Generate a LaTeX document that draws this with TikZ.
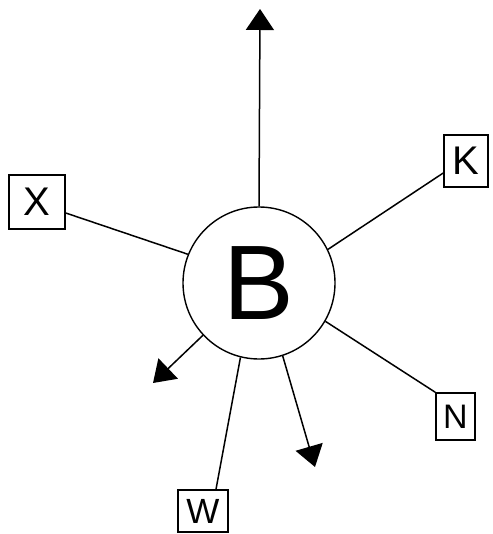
\documentclass[tikz,border=0pt]{standalone}
\usepackage{fontspec}
\setmainfont{Liberation Sans}
\usetikzlibrary{arrows.meta}
\begin{document}
\begin{tikzpicture}[x=1pt,y=-1pt,
  box/.style={draw,line width=1.5pt,inner sep=0pt,font=\fontsize{40}{40}\selectfont},
  link/.style={line width=1.5pt},
  arr/.style={line width=1.5pt,-{Triangle[length=21pt,width=28pt]}}]
\useasboundingbox (0,0) rectangle (492,534);
\node[draw,circle,line width=1.4pt,minimum size=152pt,inner sep=0pt,font=\fontsize{106}{106}\selectfont] (B) at (259,283) {B};
\node[box,minimum width=56pt,minimum height=54pt] (X) at (37,202) {X};
\node[box,minimum width=44pt,minimum height=52pt] (K) at (466,161) {K};
\node[box,minimum width=39pt,minimum height=47pt,font=\fontsize{34}{34}\selectfont] (N) at (455.5,416.5) {N};
\node[box,minimum width=50pt,minimum height=42pt,font=\fontsize{35}{35}\selectfont] (W) at (203,511) {W};
\coordinate (t1) at (260,9);
\coordinate (t2) at (153,383);
\coordinate (t3) at (315,467);
\draw[link] ([yshift=-11pt]X.east) -- (B.158);
\draw[link] ([yshift=-12pt]K.west) -- (B.26);
\draw[link] (N.north west) -- (B.-30);
\draw[link] ([xshift=13pt]W.north) -- (B.-104);
\draw[arr] (B.90) -- (t1);
\draw[arr] (B.-137) -- (t2);
\draw[arr] (B.-72) -- (t3);
\end{tikzpicture}
\end{document}
